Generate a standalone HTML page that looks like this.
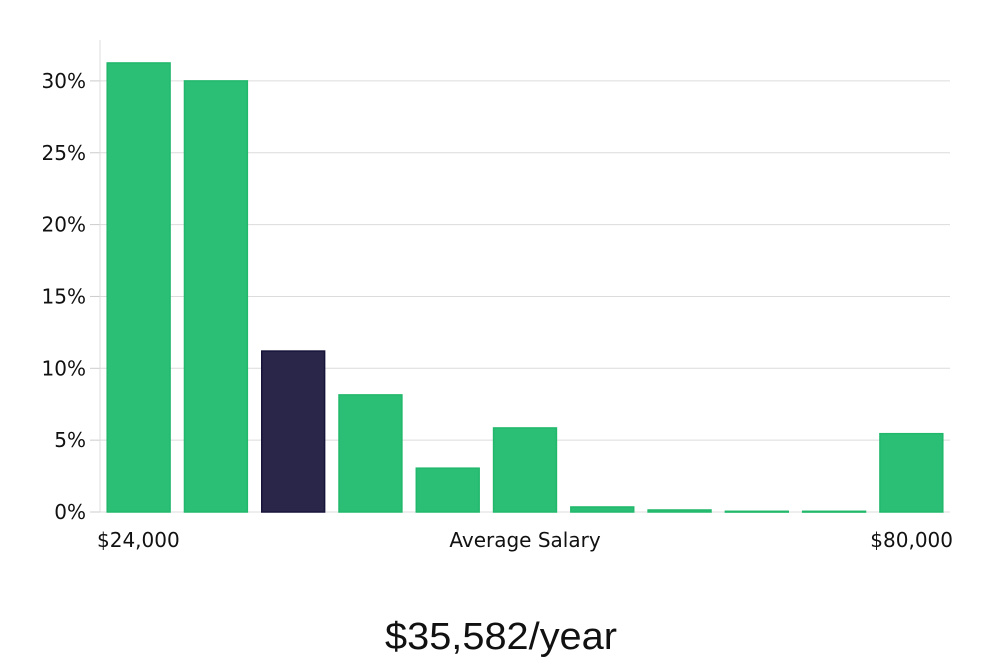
<!DOCTYPE html>
<html><head><meta charset="utf-8"><style>
html,body{margin:0;padding:0;background:#fff;}
body{width:1000px;height:660px;overflow:hidden;}
text{font-family:"DejaVu Sans","Liberation Sans",sans-serif;}
</style></head><body>
<svg id="chart" width="1000" height="660" viewBox="0 0 1000 660" xmlns="http://www.w3.org/2000/svg"></svg>
<script>
const categories = ["b1","b2","b3","b4","b5","b6","b7","b8","b9","b10","b11"];
const values = [31.25, 30.0, 11.2, 8.15, 3.05, 5.85, 0.35, 0.14, 0.05, 0.05, 5.45];
const highlightIndex = 2;
const yTicks = [0, 5, 10, 15, 20, 25, 30];
const yTickLabels = ["0%","5%","10%","15%","20%","25%","30%"];

const svg = document.getElementById('chart');
const NS = 'http://www.w3.org/2000/svg';
const x0 = 100, x1 = 950, y0 = 512, pxPerUnit = 14.37;
const band = (x1 - x0) / categories.length;
function yScale(v){ return y0 - v * pxPerUnit; }
function xScale(i){ return x0 + i * band; }
function mk(tag, attrs){ const e = document.createElementNS(NS, tag); for (const k in attrs) e.setAttribute(k, attrs[k]); svg.appendChild(e); return e; }

yTicks.forEach((t, i) => {
  const y = yScale(t);
  if (t > 0) {
    const g = mk('line', {x1: x0, x2: x1, y1: y, y2: y, stroke: '#dcdcdc', 'stroke-width': 1});
    
    
  }
  const tk = mk('line', {x1: 90, x2: x0, y1: y, y2: y, stroke: '#cccccc', 'stroke-width': 1});
  
  
  const lb = mk('text', {x: 86, y: y + 7, 'text-anchor': 'end', 'font-size': 20, fill: '#111'});
  lb.textContent = yTickLabels[i];
  
  
});
const ax = mk('line', {x1: x0, x2: x0, y1: 40, y2: y0, stroke: '#dcdcdc', 'stroke-width': 1});


const bx = mk('line', {x1: x0, x2: x1, y1: y0, y2: y0, stroke: '#dcdcdc', 'stroke-width': 1});



values.forEach((v, i) => {
  const pad = 7.2;
  const y = yScale(v);
  const hl = i === highlightIndex;
  const r = mk('rect', {x: xScale(i) + pad, y: y, width: band - 2 * pad, height: Math.max(y0 - y, 0.8),
    fill: hl ? '#2a2649' : '#2bbf76', stroke: hl ? '#17143a' : '#22b86c', 'stroke-width': 1.5});
  
  
});

function txt(s, x, y, size, anchor, name, family, len){
  const t = mk('text', {x: x, y: y, 'font-size': size, 'text-anchor': anchor, fill: '#111'});
  if (family) t.setAttribute('style', 'font-family:' + family);
  if (len) { t.setAttribute('textLength', len); t.setAttribute('lengthAdjust', 'spacingAndGlyphs'); }
  t.textContent = s;
  
  
}
txt('$24,000', 97, 547, 20, 'start', 'x-min-label');
txt('Average Salary', 525, 547, 20, 'middle', 'x-axis-title');
txt('$80,000', 953, 547, 20, 'end', 'x-max-label');
txt('$35,582/year', 501, 649, 38, 'middle', 'average-salary-value', '"Liberation Sans",sans-serif', 232);
</script>
</body></html>
